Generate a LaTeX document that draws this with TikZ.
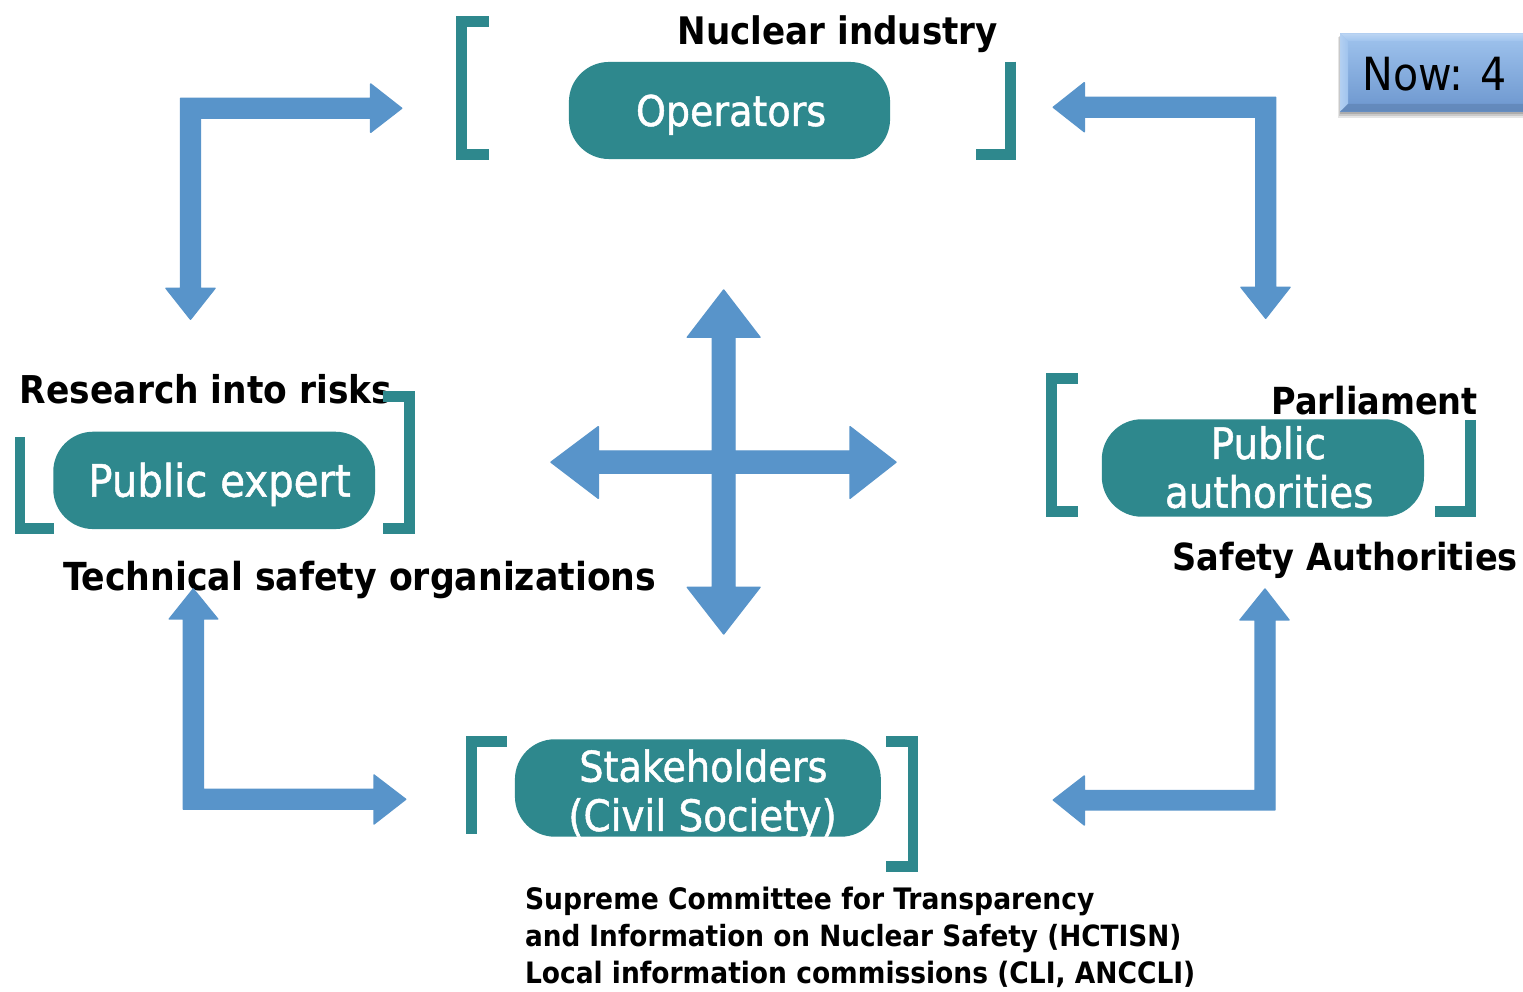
\documentclass[tikz,border=0pt]{standalone}
\usepackage{fontspec}
\IfFontExistsTF{DejaVu Sans Condensed}{\setmainfont{DejaVu Sans Condensed}\newfontfamily\medfont{DejaVu Sans Condensed}[FakeBold=1.1]}{\setmainfont{DejaVu Sans}\newfontfamily\medfont{DejaVu Sans}[FakeBold=1.1]}
\usepackage{graphicx}
\definecolor{tealc}{RGB}{46,136,141}
\definecolor{arrowblue}{RGB}{88,148,202}
\definecolor{nowtop}{RGB}{160,196,238}
\definecolor{nowbot}{RGB}{108,150,206}
\tikzset{
  bigarrow/.style={fill=arrowblue, draw=arrowblue, line width=0.4pt, line join=round},
  bracketline/.style={draw=tealc, line width=0.107cm, line join=miter, line cap=butt},
  tealbox/.style={fill=tealc, draw=none, rounded corners=0.4cm, inner sep=0pt, outer sep=0pt},
  lbl/.style={inner sep=0pt, outer sep=0pt, anchor=base west, font=\bfseries\fontsize{11}{13}\selectfont},
  boxtxt/.style={inner sep=0pt, outer sep=0pt, anchor=base west, text=white, font=\medfont\fontsize{11}{13}\selectfont},
  smalltxt/.style={inner sep=0pt, outer sep=0pt, anchor=base west, font=\bfseries\fontsize{9}{11}\selectfont},
}
\newcommand{\fitw}[2]{\resizebox{#1}{!}{#2}}
\begin{document}
\begin{tikzpicture}[x=0.01cm, y=-0.01cm]
\clip (0,0) rectangle (1523,992);
\fill[white] (0,0) rectangle (1523,992);

% ---- black labels ----
\node[lbl] (nuc) at (677.8,45) {\fitw{3.20cm}{Nuclear industry}};
\node[lbl] (res) at (20,403.3) {\fitw{3.72cm}{Research into risks}};
\node[lbl] (tech) at (63,591) {\fitw{5.93cm}{Technical safety organizations}};
\node[lbl] (parl) at (1271.7,415) {\fitw{2.06cm}{Parliament}};
\node[lbl] (safe) at (1172.7,570.7) {\fitw{3.45cm}{Safety Authorities}};
\node[smalltxt] (l1) at (525,909.5) {\fitw{5.69cm}{Supreme Committee for Transparency}};
\node[smalltxt] (l2) at (525,947) {\fitw{6.56cm}{and Information on Nuclear Safety (HCTISN)}};
\node[smalltxt] (l3) at (525,984) {\fitw{6.70cm}{Local information commissions (CLI, ANCCLI)}};

% ---- bent arrows ----
\path[bigarrow] (401.7,108.3) -- (370.7,84) -- (370.7,98.3) -- (180.5,98.3) -- (180.5,288.3)
  -- (166,288.3) -- (190.5,319.3) -- (215,288.3) -- (200.5,288.3) -- (200.5,118.3)
  -- (370.7,118.3) -- (370.7,132.3) -- cycle;
\path[bigarrow] (1053.3,107.3) -- (1084.3,82.7) -- (1084.3,97.3) -- (1275.7,97.3) -- (1275.7,287.3)
  -- (1290,287.3) -- (1265.7,318.3) -- (1241,287.3) -- (1255.7,287.3) -- (1255.7,117.3)
  -- (1084.3,117.3) -- (1084.3,131.7) -- cycle;
\path[bigarrow] (193.3,589) -- (217.7,619) -- (203.3,619) -- (203.3,789.3) -- (374,789.3)
  -- (374,775) -- (405.7,799.3) -- (374,824) -- (374,809.3) -- (183.3,809.3)
  -- (183.3,619) -- (169.3,619) -- cycle;
\path[bigarrow] (1265,589) -- (1289,620) -- (1275,620) -- (1275,810) -- (1084.3,810)
  -- (1084.3,825) -- (1053.3,800) -- (1084.3,776) -- (1084.3,790.7) -- (1255,790.7)
  -- (1255,620) -- (1240,620) -- cycle;

% ---- four-way cross arrow ----
\path[bigarrow] (723.7,290) -- (760,337.3) -- (735,337.3) -- (735,451) -- (850,451)
  -- (850,426.7) -- (896,462.2) -- (850,498.3) -- (850,473.3) -- (735,473.3)
  -- (735,587.3) -- (760,587.3) -- (723.7,634) -- (687.3,587.3) -- (712.3,587.3)
  -- (712.3,473.3) -- (598.3,473.3) -- (598.3,498.3) -- (551,462.2) -- (598.3,426.7)
  -- (598.3,451) -- (712.3,451) -- (712.3,337.3) -- (687.3,337.3) -- cycle;

% ---- brackets ----
\draw[bracketline] (488.9,21.3) -- (461.2,21.3) -- (461.2,154.7) -- (488.9,154.7);
\draw[bracketline] (1010.2,61.7) -- (1010.2,154.7) -- (976,154.7);
\draw[bracketline] (20,437.3) -- (20,528.7) -- (54.3,528.7);
\draw[bracketline] (382.7,396.3) -- (409.7,396.3) -- (409.7,528.7) -- (382.7,528.7);
\draw[bracketline] (1077.7,378.7) -- (1051.3,378.7) -- (1051.3,511.3) -- (1077.7,511.3);
\draw[bracketline] (1470.3,420) -- (1470.3,511.3) -- (1435,511.3);
\draw[bracketline] (471.7,834) -- (471.7,741.7) -- (506.7,741.7);
\draw[bracketline] (886,741.7) -- (913,741.7) -- (913,866.7) -- (886,866.7);

% ---- teal boxes ----
\node[tealbox, minimum width=3.21cm, minimum height=0.97cm] (opbox) at (729.5,110.5) {};
\node[tealbox, minimum width=3.217cm, minimum height=0.973cm] (pebox) at (214.2,480.4) {};
\node[tealbox, minimum width=3.22cm, minimum height=0.974cm] (pabox) at (1262.9,468) {};
\node[tealbox, minimum width=3.657cm, minimum height=0.974cm] (stbox) at (697.9,788) {};

\node[boxtxt] (optxt) at (636,126) {\fitw{1.90cm}{Operators}};
\node[boxtxt] (petxt) at (88.3,496.7) {\fitw{2.624cm}{Public expert}};
\node[boxtxt] (patxt1) at (1210.7,459) {\fitw{1.153cm}{Public}};
\node[boxtxt] (patxt2) at (1165,507.7) {\fitw{2.083cm}{authorities}};
\node[boxtxt] (sttxt1) at (579.3,781.7) {\fitw{2.48cm}{Stakeholders}};
\node[boxtxt] (sttxt2) at (568.3,831) {\fitw{2.684cm}{(Civil Society)}};

% ---- "Now: 4" button ----
\fill[black, opacity=0.10] (1338,37) rectangle (1570,118);
\fill[black, opacity=0.12] (1339,36) rectangle (1570,116);
\fill[black, opacity=0.14] (1340,35) rectangle (1570,114);
\shade[top color=nowtop, bottom color=nowbot] (1340,33.3) rectangle (1570,111.7);
\shade[top color=nowtop!70!white, bottom color=nowtop] (1340,33.3) -- (1570,33.3) -- (1570,41) -- (1348,41) -- cycle;
\shade[left color=nowtop!80!white, right color=nowtop] (1340,33.3) -- (1348,41) -- (1348,104) -- (1340,111.7) -- cycle;
\fill[nowbot!85!black, opacity=0.6] (1340,111.7) -- (1348,104) -- (1570,104) -- (1570,111.7) -- cycle;
\node[inner sep=0pt, outer sep=0pt, anchor=base west, font=\fontsize{13}{15}\selectfont] (now) at (1362.3,90.7) {\fitw{1.444cm}{Now: 4}};
\end{tikzpicture}
\end{document}
